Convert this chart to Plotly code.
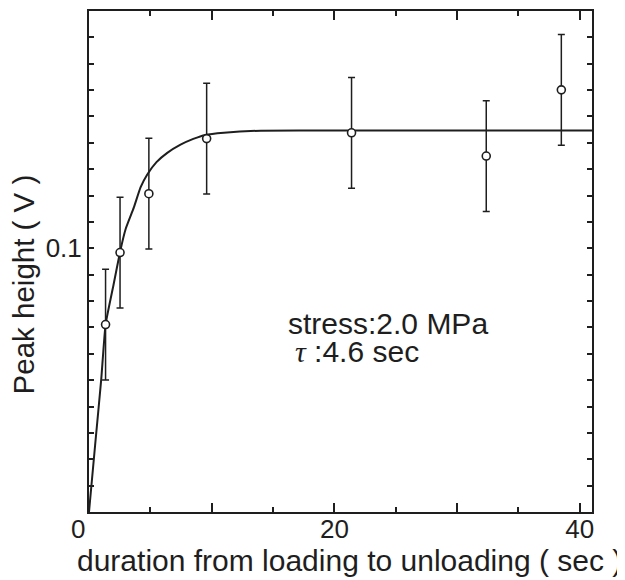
import plotly.graph_objects as go

# measured data points (duration in sec, peak height in V)
duration = [1.35, 2.53, 4.88, 9.59, 21.40, 32.38, 38.50]
peak_height = [0.0711, 0.0984, 0.1207, 0.1416, 0.1438, 0.1350, 0.1601]
peak_err = [0.021, 0.021, 0.021, 0.021, 0.021, 0.021, 0.021]

# fitted curve (tau : 4.6 sec)
fit_t = [0, 0.5, 1.0, 1.35, 2.0, 2.53, 3.0, 3.65, 4.2, 4.75, 5.5, 6.38, 7.46,
         8.5, 9.5, 11.0, 14.0, 20.0, 41.0]
fit_v = [0, 0.0254, 0.0505, 0.0711, 0.0862, 0.0986, 0.1075, 0.1154, 0.1231,
         0.1280, 0.1327, 0.1362, 0.1393, 0.1415, 0.1430, 0.1438, 0.1446,
         0.1447, 0.1447]

x_tickvals = [0, 10, 20, 30, 40]
x_ticktext = ["0\u00a0\u00a0\u00a0", "", "20", "", "40"]
y_tickvals = [round(0.01 * i, 2) for i in range(19)]
y_ticktext = ["0.1" if abs(v - 0.1) < 1e-9 else "" for v in y_tickvals]

INK = "#1e1e1e"
FONT = "Arial, Liberation Sans, Helvetica, sans-serif"

fig = go.Figure()
fig.add_trace(go.Scatter(
    x=fit_t, y=fit_v, mode="lines",
    line=dict(color=INK, width=2, shape="spline", smoothing=0.4),
    showlegend=False, hoverinfo="skip",
))
fig.add_trace(go.Scatter(
    x=duration, y=peak_height, mode="markers",
    marker=dict(symbol="circle", size=8, color="white", line=dict(color=INK, width=1.6)),
    error_y=dict(type="data", array=peak_err, visible=True, color=INK, thickness=1.5, width=3.5),
    showlegend=False,
))

fig.update_xaxes(
    range=[0, 41], showline=True, linecolor=INK, linewidth=2, mirror="ticks",
    ticks="inside", ticklen=9, tickwidth=1.5, tickcolor=INK,
    tickvals=x_tickvals, ticktext=x_ticktext, ticklabelstandoff=-7,
    minor=dict(dtick=5, ticks="inside", ticklen=5, tickwidth=1.5, tickcolor=INK),
    showgrid=False, zeroline=False,
    tickfont=dict(size=26, color=INK, family=FONT),
)
fig.update_yaxes(
    range=[0, 0.19], showline=True, linecolor=INK, linewidth=2, mirror="ticks",
    ticks="inside", ticklen=5, tickwidth=1.5, tickcolor=INK,
    tickvals=y_tickvals, ticktext=y_ticktext,
    showgrid=False, zeroline=False,
    tickfont=dict(size=26, color=INK, family=FONT),
)

fig.add_annotation(x=16.1, y=0.0716, xref="x", yref="y", text="stress:2.0 MPa",
                   showarrow=False, xanchor="left", yanchor="middle", borderpad=0,
                   font=dict(size=30, color=INK, family=FONT))
fig.add_annotation(x=16.75, y=0.0610, xref="x", yref="y",
                   text="<i><span style='font-family:Liberation Serif, Times New Roman, serif'>\u03c4</span></i> :4.6 sec",
                   showarrow=False, xanchor="left", yanchor="middle", borderpad=0,
                   font=dict(size=30, color=INK, family=FONT))
fig.add_annotation(x=0.517, y=-0.0976, xref="paper", yref="paper",
                   text="duration from loading to unloading ( sec )",
                   showarrow=False, xanchor="center", yanchor="middle",
                   font=dict(size=30, color=INK, family=FONT))
fig.add_annotation(x=-0.1296, y=0.4539, xref="paper", yref="paper",
                   text="Peak height ( V )", textangle=-90,
                   showarrow=False, xanchor="center", yanchor="middle",
                   font=dict(size=29.5, color=INK, family=FONT))

# the page body has an 8px margin, so the figure is sized to fit inside the window
fig.update_layout(
    width=617, height=572,
    margin=dict(l=80.5, r=33, t=1.3, b=67.7),
    paper_bgcolor="white", plot_bgcolor="white",
    font=dict(family=FONT, color=INK),
)

fig.write_html("out.html")
